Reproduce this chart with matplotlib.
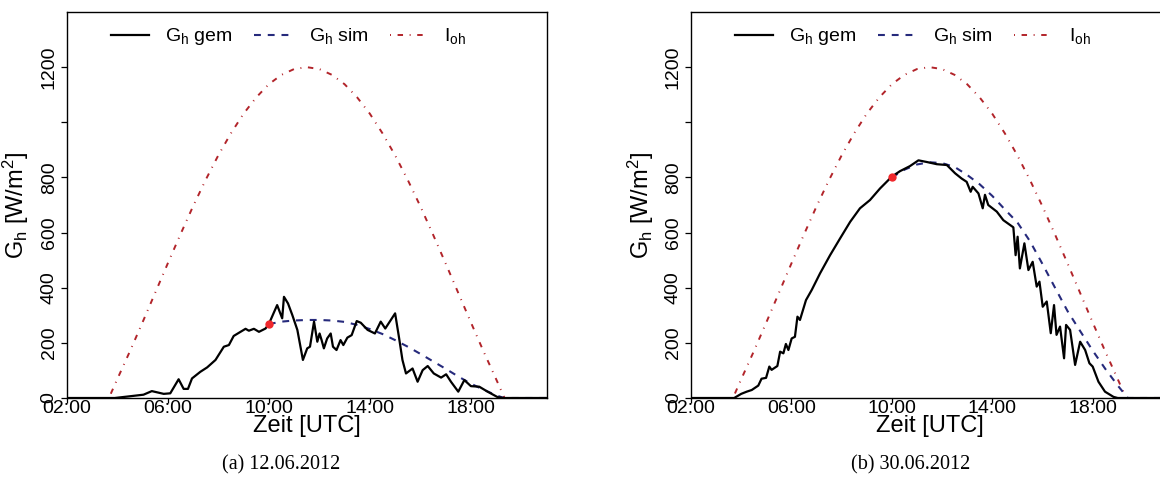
import matplotlib
matplotlib.use("Agg")
import matplotlib.pyplot as plt

plt.rcParams['font.family'] = ['Liberation Sans', 'DejaVu Sans']
plt.rcParams['mathtext.fontset'] = 'custom'
plt.rcParams['mathtext.rm'] = 'Liberation Sans'
plt.rcParams['mathtext.it'] = 'Liberation Sans:italic'
plt.rcParams['mathtext.bf'] = 'Liberation Sans:bold'

# ---------------- data (time in decimal hours UTC, values W/m^2) ----------------
ioh_t = [2.0, 3.67, 4.0, 4.5, 5.0, 5.5, 6.0, 6.5, 7.0, 7.5, 8.0, 8.5, 9.0, 9.5, 10.0,
         10.5, 11.0, 11.5, 12.0, 12.5, 13.0, 13.5, 14.0, 14.5, 15.0, 15.5, 16.0, 16.5,
         17.0, 17.5, 18.0, 18.5, 19.0, 19.33, 21.0]
ioh_v = [0, 0, 68, 169, 274, 381, 488, 593, 695, 791, 880, 960, 1031, 1090, 1138,
         1172, 1193, 1200, 1193, 1172, 1138, 1090, 1031, 960, 880, 791, 695, 593,
         488, 381, 274, 169, 68, 0, 0]

# 12.06.2012
gem_a_t = [2.0, 3.9, 4.38, 5.04, 5.37, 5.84, 6.1, 6.43, 6.63, 6.8, 6.96, 7.29, 7.56, 7.89,
           8.22, 8.42, 8.61, 8.88, 9.08, 9.21, 9.41, 9.61, 9.87, 10.0, 10.33, 10.53, 10.6,
           10.76, 10.93, 11.13, 11.35, 11.52, 11.63, 11.79, 11.92, 12.01, 12.09, 12.18,
           12.31, 12.45, 12.54, 12.68, 12.84, 12.95, 13.11, 13.28, 13.48, 13.64, 13.91,
           14.2, 14.43, 14.61, 14.83, 15.0, 15.16, 15.29, 15.43, 15.69, 15.89, 16.09,
           16.29, 16.53, 16.82, 17.02, 17.21, 17.5, 17.74, 18.0, 18.33, 18.66, 19.06,
           19.3, 21.0]
gem_a_v = [0, 0, 5, 12, 25, 15, 17, 68, 33, 33, 71, 95, 111, 138,
           186, 192, 225, 240, 251, 244, 251, 240, 252, 268, 337, 289, 367,
           343, 301, 247, 138, 180, 186, 277, 204, 234, 210, 180,
           216, 234, 186, 174, 210, 192, 219, 228, 279, 273, 247,
           234, 277, 252, 283, 307, 216, 138, 89, 107, 59, 101,
           116, 89, 74, 86, 59, 23, 65, 43, 41, 23, 3,
           0, 0]
sim_a_t = [10.0, 10.5, 11.0, 11.5, 12.0, 12.5, 13.0, 13.5, 14.0, 14.5, 15.0, 15.5,
           16.0, 16.5, 17.0, 17.5, 18.0, 18.5, 19.0, 19.3, 21.0]
sim_a_v = [268, 277, 281, 283, 283, 281, 276, 265, 250, 232, 210, 186,
           160, 133, 106, 78, 52, 30, 10, 0, 0]

# 30.06.2012
gem_b_t = [2.0, 3.72, 4.0, 4.22, 4.42, 4.68, 4.81, 4.99, 5.12, 5.21, 5.44, 5.55, 5.68,
           5.78, 5.88, 6.01, 6.14, 6.24, 6.34, 6.58, 6.81, 7.14, 7.54, 7.94, 8.34, 8.73,
           9.13, 9.53, 10.0, 10.33, 10.72, 11.06, 11.39, 11.79, 12.19, 12.52, 12.78,
           12.98, 13.14, 13.22, 13.45, 13.62, 13.71, 13.84, 14.18, 14.44, 14.84, 14.93,
           15.01, 15.1, 15.28, 15.44, 15.61, 15.77, 15.88, 16.01, 16.17, 16.33, 16.46,
           16.56, 16.7, 16.86, 16.94, 17.1, 17.3, 17.5, 17.7, 17.87, 18.0, 18.23, 18.49,
           18.83, 19.0, 21.0]
gem_b_v = [0, 0, 15, 23, 29, 45, 70, 73, 114, 102, 116, 168, 162,
           196, 174, 216, 222, 295, 283, 355, 392, 452, 518, 579, 639, 688,
           718, 760, 803, 823, 841, 862, 856, 848, 845, 815, 796,
           784, 748, 766, 742, 688, 737, 700, 676, 645, 619, 518,
           585, 470, 561, 464, 494, 404, 422, 331, 350, 235, 337,
           229, 259, 144, 265, 247, 120, 204, 174, 126, 114, 59, 23,
           4, 0, 0]
sim_b_t = [10.0, 10.5, 11.0, 11.5, 12.0, 12.5, 13.0, 13.5, 14.0, 14.5, 15.0, 15.5,
           16.0, 16.5, 17.0, 17.5, 18.0, 18.5, 19.0, 19.4, 21.0]
sim_b_v = [800, 828, 847, 855, 852, 838, 809, 775, 733, 684, 637, 569,
           486, 400, 315, 243, 172, 106, 45, 0, 0]

start_t = 10.0
start_a = 268
start_b = 800

x_ticks = [2, 6, 10, 14, 18]
x_labels = ['02:00', '06:00', '10:00', '14:00', '18:00']
y_ticks = [0, 200, 400, 600, 800, 1000, 1200]
y_labels = ['0', '200', '400', '600', '800', '', '1200']
captions = ['(a) 12.06.2012', '(b) 30.06.2012']
legend_labels = [r'G$_{\mathrm{h}}$ gem', r'G$_{\mathrm{h}}$ sim', r'I$_{\mathrm{oh}}$']

C_GEM = 'black'
C_SIM = '#262A7C'
C_IOH = '#B2242A'
C_PT = '#F0282C'

W, H = 1160, 486
fig = plt.figure(figsize=(W / 100, H / 100), dpi=100)

axes_px = [(66.7, 480.0), (691.0, 477.0)]
caption_x = [281.0, 911.0]
top_px, bot_px = 12.0, 398.0

panels = [(gem_a_t, gem_a_v, sim_a_t, sim_a_v, start_a),
          (gem_b_t, gem_b_v, sim_b_t, sim_b_v, start_b)]

for i, ((left, width), (gt, gv, st, sv, sp)) in enumerate(zip(axes_px, panels)):
    ax = fig.add_axes([left / W, (H - bot_px) / H, width / W, (bot_px - top_px) / H])
    l1, = ax.plot(gt, gv, color=C_GEM, lw=1.6, solid_joinstyle='round', zorder=4)
    l2, = ax.plot(st, sv, color=C_SIM, lw=1.5, dashes=(3.3, 3.3), zorder=3)
    l3, = ax.plot(ioh_t, ioh_v, color=C_IOH, lw=1.4, dashes=(0.5, 3.4, 2.8, 3.4), zorder=2)
    ax.plot([start_t], [sp], 'o', color=C_PT, ms=6, mec='none', zorder=5)
    ax.set_xlim(2, 21)
    ax.set_ylim(0, 1400)
    ax.set_xticks(x_ticks)
    ax.set_xticklabels(x_labels)
    ax.set_yticks(y_ticks)
    ax.set_yticklabels(y_labels, rotation=90, va='center')
    ax.tick_params(axis='x', length=3.5, width=0.9, pad=-2, labelsize=14, direction='out')
    ax.tick_params(axis='y', length=4.5, width=0.9, pad=2, labelsize=14, direction='out')
    for s in ax.spines.values():
        s.set_linewidth(1.0)
    ax.set_xlabel('Zeit [UTC]', fontsize=17)
    ax.xaxis.set_label_coords(0.5, -0.045)
    ax.set_ylabel(r'G$_{\mathrm{h}}$ [W/m$^{2}$]', fontsize=17)
    ax.yaxis.set_label_coords(-0.074, 0.5)
    ax.legend([l1, l2, l3], legend_labels, loc='center left',
              bbox_to_anchor=(44.0 / width, 1 - 25.0 / (bot_px - top_px)),
              ncol=3, frameon=False, fontsize=14, borderpad=0, borderaxespad=0,
              handlelength=1.95, handletextpad=0.85, columnspacing=1.1)
    fig.text(caption_x[i] / W, 1 - 465.0 / H, captions[i], ha='center',
             va='center', fontsize=14.5, family=['Liberation Serif', 'DejaVu Serif'])

fig.savefig('out.png', dpi=100)
